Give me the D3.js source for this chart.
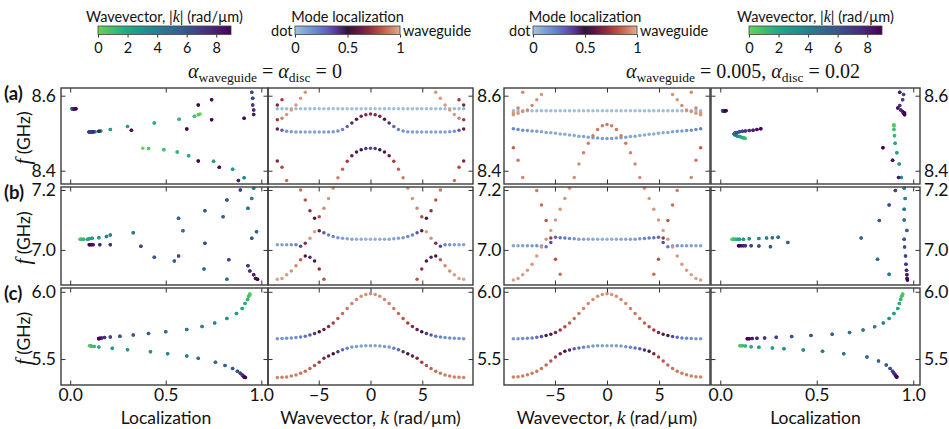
<!DOCTYPE html>
<html lang="en">
<head>
<meta charset="utf-8">
<title>Mode localization of coupled dot / waveguide bands</title>
<style>
  body { margin:0; background:#fff; }
  svg  { display:block; }
</style>
</head>
<body>
<script src="https://d3js.org/d3.v7.min.js"></script>
<script>

// |k| sampling (rad/um); each band is mirrored to negative k
const kAbs = [0, 0.45, 0.9, 1.35, 1.8, 2.25, 2.7, 3.15, 3.6, 4.05, 4.5, 4.95, 5.4, 5.85, 6.3, 6.75, 7.2, 7.65, 8.1, 8.55, 9];

// ---- alpha_waveguide = alpha_disc = 0 (left) ----
// row (a): frequency (GHz) and localization per |k|
const aL1_f   = [8.565,8.565,8.565,8.565,8.565,8.565,8.565,8.565,8.565,8.565,8.565,8.565,8.565,8.565,8.565,8.565,8.565,8.565,8.565,8.565,8.565];
const aL1_loc = [0.010,0.010,0.010,0.011,0.011,0.012,0.012,0.012,0.013,0.013,0.014,0.014,0.015,0.015,0.016,0.017,0.018,0.020,0.022,0.025,0.030];
const aL2_f   = [8.551,8.549,8.545,8.537,8.527,8.518,8.510,8.506,8.504,8.503,8.503,8.503,8.503,8.503,8.503,8.503,8.503,8.504,8.505,8.508,8.511];
const aL2_loc = [0.68,0.67,0.65,0.57,0.44,0.30,0.21,0.16,0.13,0.12,0.11,0.10,0.10,0.10,0.10,0.10,0.11,0.12,0.15,0.32,0.61];
const aL3_f   = [8.460,8.459,8.456,8.450,8.440,8.425,8.404,8.381];
const aL3_loc = [0.38,0.41,0.49,0.56,0.62,0.75,0.85,0.91];
const aL4_f   = [8.609,8.593,8.575,8.562,8.550,8.540,8.536];        // from |k| = 6.3
const aL4_loc = [0.95,0.955,0.955,0.96,0.96,0.91,0.74];
const aL5_f   = [8.589,8.575];                                      // from |k| = 8.55
const aL5_loc = [0.74,0.67];
const aL6_f   = [8.374,8.409,8.426];                                // from |k| = 8.1
const aL6_loc = [0.88,0.78,0.67];

// row (b)
const bL1_f   = [7.036,7.036,7.036,7.036,7.036,7.037,7.039,7.041,7.045,7.050,7.057,7.064,7.061,7.039,7.022,7.012,7.017,7.017,7.017,7.017,7.017];
const bL1_loc = [0.05,0.055,0.06,0.07,0.09,0.10,0.115,0.15,0.19,0.21,0.33,0.59,0.975,0.95,0.705,0.37,0.21,0.155,0.12,0.11,0.10];
const bL2_f   = [6.902,6.936,6.963,6.976,6.980,6.967,6.947,6.930,6.917,6.905,6.902];  // from |k| = 4.5
const bL2_loc = [0.82,0.70,0.545,0.44,0.567,0.83,0.93,0.94,0.96,0.97,0.98];
const bL3_f   = [7.206,7.172,7.139,7.111,7.106,7.131,7.167,7.200];  // from |k| = 3.6
const bL3_loc = [0.96,0.95,0.93,0.80,0.567,0.705,0.82,0.89];

// row (c)
const cL1_f   = [5.985,5.980,5.966,5.943,5.912,5.876,5.838,5.801,5.768,5.741,5.720,5.703,5.690,5.679,5.670,5.664,5.660,5.656,5.654,5.652,5.651];
const cL1_loc = [0.94,0.94,0.934,0.928,0.915,0.90,0.87,0.82,0.756,0.69,0.61,0.50,0.41,0.33,0.26,0.21,0.18,0.165,0.155,0.15,0.15];
const cL2_f   = [5.599,5.599,5.597,5.594,5.589,5.581,5.569,5.555,5.540,5.522,5.505,5.476,5.452,5.430,5.410,5.395,5.382,5.373,5.367,5.364,5.362];
const cL2_loc = [0.10,0.105,0.11,0.125,0.15,0.22,0.30,0.42,0.51,0.61,0.67,0.76,0.81,0.85,0.875,0.89,0.90,0.906,0.91,0.913,0.916];

// ---- alpha_waveguide = 0.005, alpha_disc = 0.02 (right) ----
const aR1_f   = [8.560,8.560,8.560,8.560,8.560,8.560,8.560,8.560,8.560,8.560,8.560,8.560,8.560,8.560,8.560,8.560,8.560,8.560,8.560,8.560,8.560];
const aR1_loc = [0.012,0.012,0.012,0.013,0.013,0.013,0.014,0.014,0.015,0.015,0.016,0.016,0.017,0.018,0.018,0.019,0.020,0.021,0.022,0.024,0.030];
const aR2_f   = [8.486,8.486,8.487,8.488,8.489,8.491,8.492,8.494,8.495,8.497,8.498,8.500,8.501,8.502,8.504,8.505,8.506,8.507,8.508,8.510,8.512];
const aR2_loc = [0.13,0.128,0.124,0.118,0.11,0.10,0.09,0.083,0.077,0.073,0.072,0.074,0.08,0.088,0.10,0.115,0.13,0.15,0.17,0.19,0.21];
const aR3_f   = [8.523,8.520,8.510,8.493,8.473,8.448,8.418,8.382];
const aR3_loc = [0.90,0.90,0.90,0.903,0.906,0.915,0.927,0.938];
const aR4_f   = [8.603,8.589,8.574,8.562,8.558,8.553,8.549];        // from |k| = 6.3
const aR4_loc = [0.95,0.945,0.93,0.935,0.945,0.95,0.955];
const aR5_f   = [8.609,8.567,8.554];                                // from |k| = 8.1
const aR5_loc = [0.93,0.92,0.955];
const aR6_f   = [8.382,8.428,8.461];                                // from |k| = 8.1
const aR6_loc = [0.924,0.893,0.843];

const bR1_f   = [7.036,7.036,7.036,7.036,7.036,7.036,7.036,7.037,7.038,7.040,7.041,7.042,7.025,7.011,7.013,7.014,7.014,7.014,7.014,7.014,7.014];
const bR1_loc = [0.06,0.065,0.07,0.08,0.09,0.10,0.12,0.15,0.20,0.24,0.27,0.30,0.35,0.26,0.20,0.16,0.13,0.12,0.11,0.10,0.095];
const bR2_f   = [7.206,7.172,7.136,7.100,7.065,7.036,7.010,6.980,6.952,6.932,6.917,6.905,6.900]; // from |k| = 3.6
const bR2_loc = [0.953,0.958,0.953,0.953,0.967,0.953,0.955,0.96,0.962,0.965,0.967,0.968,0.97];
const bR3_f   = [6.919,6.969,7.040,7.098,7.150,7.198];              // from |k| = 4.5
const bR3_loc = [0.875,0.815,0.73,0.824,0.875,0.907];

const cR1_f   = [5.985,5.980,5.966,5.943,5.912,5.876,5.838,5.801,5.768,5.740,5.716,5.698,5.685,5.675,5.667,5.661,5.657,5.654,5.652,5.651,5.650];
const cR1_loc = [0.945,0.945,0.94,0.935,0.928,0.92,0.90,0.875,0.845,0.80,0.74,0.67,0.58,0.47,0.37,0.29,0.23,0.19,0.165,0.15,0.14];
const cR2_f   = [5.599,5.599,5.598,5.596,5.592,5.587,5.582,5.576,5.568,5.557,5.540,5.515,5.485,5.455,5.430,5.410,5.395,5.383,5.374,5.369,5.367];
const cR2_loc = [0.10,0.105,0.115,0.13,0.16,0.20,0.27,0.33,0.43,0.53,0.64,0.76,0.82,0.86,0.88,0.893,0.90,0.906,0.91,0.913,0.915];

// colormap for mode localization (dot -> waveguide)
const locStops  = [0, 0.1, 0.2, 0.3, 0.4, 0.5, 0.6, 0.7, 0.8, 0.9, 1];
const locColors = ["#a5c4d8", "#82a3d3", "#6787ca", "#5d62bb", "#55358f", "#2f1436", "#5e1a42", "#8f2a40", "#b74b42", "#cd7a5e", "#dfae92"];

const kTicksCb   = [0, 2, 4, 6, 8];
const locTicksCb = [0, 0.5, 1];

const band = (from, f, loc) => ({ from, f, loc });

const rows = [
  { label: "(a)", top: 88, bottom: 184, domain: [8.3645, 8.6205], ticks: [8.4, 8.6],
    left:  [band(0, aL1_f, aL1_loc), band(0, aL2_f, aL2_loc), band(0, aL3_f, aL3_loc),
            band(14, aL4_f, aL4_loc), band(19, aL5_f, aL5_loc), band(18, aL6_f, aL6_loc)],
    right: [band(0, aR1_f, aR1_loc), band(0, aR2_f, aR2_loc), band(0, aR3_f, aR3_loc),
            band(14, aR4_f, aR4_loc), band(18, aR5_f, aR5_loc), band(18, aR6_f, aR6_loc)] },
  { label: "(b)", top: 187, bottom: 285, domain: [6.883, 7.21], ticks: [7.0, 7.2],
    left:  [band(0, bL1_f, bL1_loc), band(10, bL2_f, bL2_loc), band(8, bL3_f, bL3_loc)],
    right: [band(0, bR1_f, bR1_loc), band(8, bR2_f, bR2_loc), band(10, bR3_f, bR3_loc)] },
  { label: "(c)", top: 288, bottom: 385, domain: [5.307, 6.028], ticks: [5.5, 6.0],
    left:  [band(0, cL1_f, cL1_loc), band(0, cL2_f, cL2_loc)],
    right: [band(0, cR1_f, cR1_loc), band(0, cR2_f, cR2_loc)] }
];

const sans  = "Lato, 'Open Sans', sans-serif";
const serif = "'Liberation Serif', 'DejaVu Serif', serif";
const frameColor = "#3c3c3c";

const locColor = d3.scaleLinear().domain(locStops).range(locColors)
  .interpolate(d3.interpolateRgb).clamp(true);
const kColor = ka => d3.interpolateViridis(0.78 * (1 - ka / 9));

const sides = [
  { name: "left",
    locX: d3.scaleLinear([-0.048, 1.035], [61, 268]),
    kX:   d3.scaleLinear([-9.9, 9.9], [268, 473]) },
  { name: "right",
    locX: d3.scaleLinear([-0.048, 1.035], [711, 920]),
    kX:   d3.scaleLinear([-9.9, 9.9], [504, 710]) }
];

// expand bands into points at +k and -k
function points(bands) {
  const out = [];
  bands.forEach(b => b.f.forEach((f, j) => {
    const i = b.from + j, ka = kAbs[i];
    (i === 0 ? [0] : [-ka, ka]).forEach(k => out.push({ k, ka, f, loc: b.loc[j] }));
  }));
  return out;
}

const svg = d3.select("body").append("svg")
  .attr("width", 949).attr("height", 429);

function styleAxis(g, size) {
  g.select(".domain").remove();
  g.attr("font-family", sans).attr("font-size", size).attr("color", "#333");
  g.selectAll("text").attr("fill", "#111");
}

// frame + inward ticks on all four sides
function box(x, y, xTicks, yTicks, opts) {
  const [x0, x1] = x.range(), [y1, y0] = y.range();
  const g = svg.append("g");
  const xf = opts.xFormat || (() => "");
  g.append("g").attr("transform", `translate(0,${y0})`)
    .call(d3.axisTop(x).tickValues(xTicks).tickSize(-4.5).tickFormat(""))
    .call(a => styleAxis(a, 17.5));
  g.append("g").attr("transform", `translate(0,${y1})`)
    .call(d3.axisBottom(x).tickValues(xTicks).tickSize(-4.5).tickPadding(4).tickFormat(opts.xLabels ? xf : ""))
    .call(a => styleAxis(a, 17.5));
  g.append("g").attr("transform", `translate(${x0},0)`)
    .call(d3.axisLeft(y).tickValues(yTicks).tickSize(-4.5).tickPadding(5)
      .tickFormat(opts.yLeft ? d3.format(".1f") : ""))
    .call(a => styleAxis(a, 17.5));
  g.append("g").attr("transform", `translate(${x1},0)`)
    .call(d3.axisRight(y).tickValues(yTicks).tickSize(-4.5).tickPadding(4)
      .tickFormat(opts.yRight ? d3.format(".1f") : ""))
    .call(a => styleAxis(a, 17.5));
  g.append("rect")
    .attr("x", x0).attr("y", y0).attr("width", x1 - x0).attr("height", y1 - y0)
    .attr("fill", "none").attr("stroke", frameColor).attr("stroke-width", 1.4);
}

rows.forEach((row, ri) => {
  const y = d3.scaleLinear(row.domain, [row.bottom, row.top]);
  const last = ri === rows.length - 1;

  sides.forEach(side => {
    const pts = points(row[side.name])
      .filter(p => p.f >= row.domain[0] && p.f <= row.domain[1]);

    // localization panel, coloured by |k|
    svg.append("g").selectAll("circle")
      .data(pts.slice().sort((a, b) => a.ka - b.ka))
      .join("circle")
        .attr("cx", d => side.locX(d.loc))
        .attr("cy", d => y(d.f))
        .attr("r", 1.75)
        .attr("fill", d => kColor(d.ka));

    // dispersion panel, coloured by localization
    svg.append("g").selectAll("circle")
      .data(pts)
      .join("circle")
        .attr("cx", d => side.kX(d.k))
        .attr("cy", d => y(d.f))
        .attr("r", 1.75)
        .attr("fill", d => locColor(d.loc));

    const left = side.name === "left";
    box(side.locX, y, [0, 0.5, 1], row.ticks,
      { xLabels: last, xFormat: d3.format(".1f"), yLeft: left, yRight: !left });
    box(side.kX, y, [-5, 0, 5], row.ticks,
      { xLabels: last, xFormat: d3.format("d"), yLeft: false, yRight: left });
  });

  // row label and f (GHz)
  svg.append("text")
    .attr("x", 4).attr("y", row.top + 12)
    .attr("font-family", sans).attr("font-size", 18.5).attr("font-weight", "bold")
    .attr("fill", "#111")
    .text(row.label);

  const yl = svg.append("text")
    .attr("transform", `translate(30,${(row.top + row.bottom) / 2 + 2}) rotate(-90)`)
    .attr("text-anchor", "middle").attr("fill", "#111")
    .attr("font-family", sans).attr("font-size", 17.5);
  yl.append("tspan").attr("font-family", serif).attr("font-style", "italic")
    .attr("font-size", 21).text("f");
  yl.append("tspan").text(" (GHz)");
});

// x axis titles
function wavevectorLabel(cx) {
  const t = svg.append("text").attr("x", cx).attr("y", 424)
    .attr("text-anchor", "middle").attr("font-family", sans).attr("font-size", 17.5).attr("fill", "#111");
  t.append("tspan").text("Wavevector, ");
  t.append("tspan").attr("font-family", serif).attr("font-style", "italic").attr("font-size", 19.5).text("k");
  t.append("tspan").text(" (rad/µm)");
}
function locLabel(cx) {
  svg.append("text").attr("x", cx).attr("y", 424)
    .attr("text-anchor", "middle").attr("font-family", sans).attr("font-size", 17.5).attr("fill", "#111")
    .text("Localization");
}
locLabel(166);
wavevectorLabel(370.5);
wavevectorLabel(607);
locLabel(815.5);

// titles with alpha subscripts
function mathTitle(cx, parts) {
  const t = svg.append("text").attr("x", cx).attr("y", 78)
    .attr("text-anchor", "middle").attr("font-family", serif).attr("font-size", 20).attr("fill", "#111");
  let sub = false;
  parts.forEach(([s, kind]) => {
    const ts = t.append("tspan").text(s);
    if (kind === "it") ts.attr("font-style", "italic");
    if (kind === "sub") { ts.attr("font-size", 13.5).attr("dy", sub ? 0 : 4); sub = true; }
    else if (sub) { ts.attr("dy", -4); sub = false; }
  });
}
mathTitle(265, [["α", "it"], ["waveguide", "sub"], [" = ", "rm"], ["α", "it"], ["disc", "sub"], [" = 0", "rm"]]);
mathTitle(743, [["α", "it"], ["waveguide", "sub"], [" = 0.005, ", "rm"], ["α", "it"], ["disc", "sub"], [" = 0.02", "rm"]]);

// colorbars
const defs = svg.append("defs");
const gradK = defs.append("linearGradient").attr("id", "gradK");
d3.range(0, 1.0001, 0.05).forEach(t =>
  gradK.append("stop").attr("offset", t).attr("stop-color", kColor(t * 9)));
const gradL = defs.append("linearGradient").attr("id", "gradL");
d3.range(0, 1.0001, 0.025).forEach(t =>
  gradL.append("stop").attr("offset", t).attr("stop-color", locColor(t)));

function colorbar(x0, x1, grad, domain, ticks, fmt, title, ends) {
  const s = d3.scaleLinear(domain, [x0, x1]);
  svg.append("rect").attr("x", x0).attr("y", 26).attr("width", x1 - x0).attr("height", 8.5)
    .attr("fill", `url(#${grad})`).attr("stroke", "#444").attr("stroke-width", 0.8);
  svg.append("g").attr("transform", "translate(0,34.5)")
    .call(d3.axisBottom(s).tickValues(ticks).tickSize(3).tickPadding(5).tickFormat(fmt))
    .call(a => styleAxis(a, 14.5));
  svg.append("text").attr("x", (x0 + x1) / 2).attr("y", 22)
    .attr("text-anchor", "middle").attr("font-family", sans).attr("font-size", 14.5).attr("fill", "#111")
    .call(t => {
      if (Array.isArray(title)) {
        t.append("tspan").text(title[0]);
        t.append("tspan").attr("font-family", serif).attr("font-style", "italic").attr("font-size", 16).text(title[1]);
        t.append("tspan").text(title[2]);
      } else t.text(title);
    });
  if (ends) {
    svg.append("text").attr("x", x0 - 2.5).attr("y", 35.5).attr("text-anchor", "end")
      .attr("font-family", sans).attr("font-size", 14.5).attr("fill", "#111").text(ends[0]);
    svg.append("text").attr("x", x1 + 3).attr("y", 35.5)
      .attr("font-family", sans).attr("font-size", 14.5).attr("fill", "#111").text(ends[1]);
  }
}
const kTitle = ["Wavevector, |", "k", "| (rad/µm)"];
colorbar(98, 231, "gradK", [0, 9], kTicksCb, d3.format("d"), kTitle, null);
colorbar(295, 400, "gradL", [0, 1], locTicksCb, d => String(d), "Mode localization", ["dot", "waveguide"]);
colorbar(533, 637, "gradL", [0, 1], locTicksCb, d => String(d), "Mode localization", ["dot", "waveguide"]);
colorbar(749, 882, "gradK", [0, 9], kTicksCb, d3.format("d"), kTitle, null);

</script>
</body>
</html>
